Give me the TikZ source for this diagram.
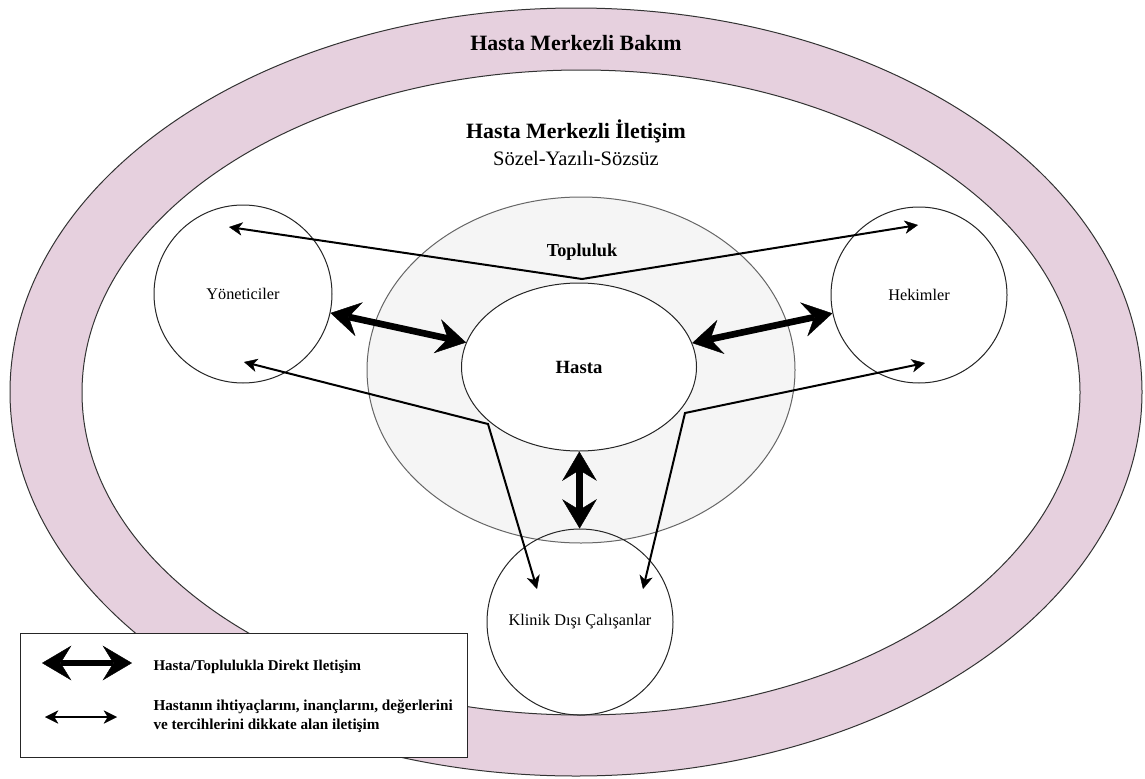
\documentclass[tikz,border=0pt]{standalone}
\usepackage{fontspec}
\setmainfont{Liberation Serif}
\usetikzlibrary{arrows.meta,shapes.geometric}

\definecolor{bakimpembe}{RGB}{230,208,222}
\definecolor{toplulukgri}{RGB}{245,245,245}
\definecolor{kenargri}{RGB}{102,102,102}

\tikzset{every picture/.style={line width=0.75pt}}
\tikzset{
	inceuc/.tip={Stealth[length=10pt,width=10pt,inset=3pt,line width=0.3pt]},
	kalinuc/.tip={Stealth[length=22pt,width=26pt,inset=8pt,line width=0.3pt]},
	ince ok/.style={line width=1.5pt, inceuc-inceuc},
	kalin ok/.style={line width=5pt, kalinuc-kalinuc},
	daire/.style={circle, draw=black!85, line width=0.75pt, inner sep=0pt, font=\fontsize{12.2}{14}\selectfont},
}

\begin{document}
\begin{tikzpicture}[x=0.75pt,y=0.75pt,yscale=-1,xscale=1]
	\useasboundingbox (0,0) rectangle (1145,778);

	%Shape: Ellipse [Hasta Merkezli Bakim]
	\draw [draw=black!80, fill=bakimpembe] (576,392) ellipse [x radius=566, y radius=384];
	%Shape: Ellipse [Hasta Merkezli Iletisim]
	\draw [draw=black!80, fill=white] (581,392.5) ellipse [x radius=499, y radius=322.5];
	%Shape: Ellipse [Topluluk]
	\node [ellipse, draw=kenargri, fill=toplulukgri, minimum width=321pt, minimum height=259.5pt] (topluluk) at (581,370) {};
	%Shape: Ellipse [Hasta]
	\node [ellipse, draw=black!85, fill=white, minimum width=176.25pt, minimum height=126pt, font=\bfseries\fontsize{14}{16}\selectfont] (hasta) at (579,367) {Hasta};

	%Shape: Circle
	\node [daire, minimum size=133.5pt] (yonetici) at (243,294) {Yöneticiler};
	%Shape: Circle
	\node [daire, minimum size=132pt] (hekim) at (919,295) {Hekimler};
	%Shape: Circle
	\node [daire, minimum size=139.5pt] (klinikdisi) at (580,622) {Klinik Dışı Çalışanlar};

	% Text Node
	\node [anchor=base, font=\bfseries\fontsize{16.4}{19}\selectfont] (bakimYazi) at (576,50) {Hasta Merkezli Bakım};
	% Text Node
	\node [anchor=base, font=\bfseries\fontsize{16.4}{19}\selectfont] (iletisimYazi) at (576,138) {Hasta Merkezli İletişim};
	% Text Node
	\node [anchor=base, font=\fontsize{15.4}{18}\selectfont] (turYazi) at (576,165) {Sözel-Yazılı-Sözsüz};
	% Text Node
	\node [anchor=base, font=\bfseries\fontsize{13.7}{16}\selectfont] (toplulukYazi) at (582,256) {Topluluk};

	%Straight Lines [ince oklar]
	\coordinate (yoneticiUst) at (229,227);
	\coordinate (ustKirik) at (582,279);
	\coordinate (hekimUst) at (918,225);
	\coordinate (yoneticiAlt) at (244,362);
	\coordinate (solKirik) at (488,424);
	\coordinate (klinikSol) at (537,589);
	\coordinate (hekimAlt) at (925,363);
	\coordinate (sagKirik) at (685,413);
	\coordinate (klinikSag) at (643,589);
	\draw [ince ok] (yoneticiUst) -- (ustKirik) -- (hekimUst);
	\draw [ince ok] (yoneticiAlt) -- (solKirik) -- (klinikSol);
	\draw [ince ok] (hekimAlt) -- (sagKirik) -- (klinikSag);

	%Straight Lines [kalin oklar]
	\draw [kalin ok] (yonetici) -- (hasta);
	\draw [kalin ok] (hasta) -- (hekim);
	\draw [kalin ok] (hasta) -- (klinikdisi);

	%Shape: Rectangle [lejant]
	\node [draw=black!85, fill=white, minimum width=335.25pt, minimum height=93pt] (lejant) at (243.5,695) {};
	\coordinate (kalinSol) at (42,663);
	\coordinate (kalinSag) at (132,663);
	\coordinate (inceSol) at (45,717);
	\coordinate (inceSag) at (117,717);
	\draw [kalin ok] (kalinSol) -- (kalinSag);
	\draw [ince ok] (inceSol) -- (inceSag);

	% Text Node
	\node [anchor=base west, inner sep=0pt, font=\bfseries\fontsize{11.2}{13}\selectfont] (kalinYazi) at (153,670) {Hasta/Toplulukla Direkt Iletişim};
	% Text Node
	\node [anchor=west, inner sep=0pt, align=left, font=\bfseries\fontsize{11.4}{14.25}\selectfont] (inceYazi) at (153,716.5) {Hastanın ihtiyaçlarını, inançlarını, değerlerini\\ve tercihlerini dikkate alan iletişim};

\end{tikzpicture}
\end{document}
